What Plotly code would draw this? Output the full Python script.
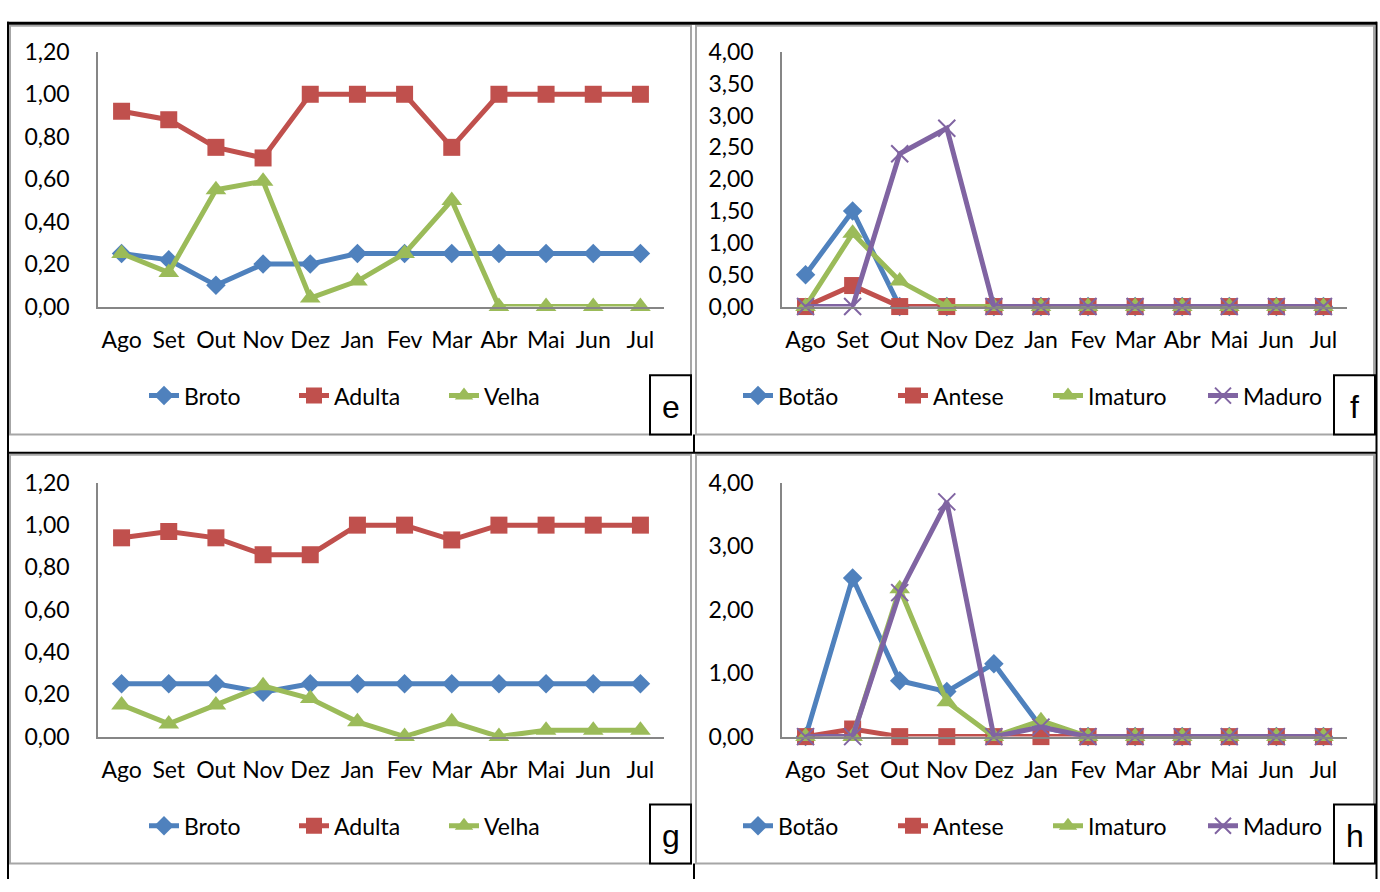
import plotly.graph_objects as go

meses = ["Ago", "Set", "Out", "Nov", "Dez", "Jan", "Fev", "Mar", "Abr", "Mai", "Jun", "Jul"]

# Panel e
e_broto = [0.25, 0.22, 0.10, 0.20, 0.20, 0.25, 0.25, 0.25, 0.25, 0.25, 0.25, 0.25]
e_adulta = [0.92, 0.88, 0.75, 0.70, 1.00, 1.00, 1.00, 0.75, 1.00, 1.00, 1.00, 1.00]
e_velha = [0.25, 0.16, 0.55, 0.59, 0.04, 0.12, 0.25, 0.50, 0.00, 0.00, 0.00, 0.00]

# Panel f
f_botao = [0.50, 1.50, 0.00, 0.00, 0.00, 0.00, 0.00, 0.00, 0.00, 0.00, 0.00, 0.00]
f_antese = [0.00, 0.33, 0.00, 0.00, 0.00, 0.00, 0.00, 0.00, 0.00, 0.00, 0.00, 0.00]
f_imaturo = [0.00, 1.15, 0.40, 0.00, 0.00, 0.00, 0.00, 0.00, 0.00, 0.00, 0.00, 0.00]
f_maduro = [0.00, 0.00, 2.40, 2.80, 0.00, 0.00, 0.00, 0.00, 0.00, 0.00, 0.00, 0.00]

# Panel g
g_broto = [0.25, 0.25, 0.25, 0.21, 0.25, 0.25, 0.25, 0.25, 0.25, 0.25, 0.25, 0.25]
g_adulta = [0.94, 0.97, 0.94, 0.86, 0.86, 1.00, 1.00, 0.93, 1.00, 1.00, 1.00, 1.00]
g_velha = [0.15, 0.06, 0.15, 0.24, 0.18, 0.07, 0.00, 0.07, 0.00, 0.03, 0.03, 0.03]

# Panel h
h_botao = [0.00, 2.50, 0.88, 0.71, 1.15, 0.15, 0.00, 0.00, 0.00, 0.00, 0.00, 0.00]
h_antese = [0.00, 0.12, 0.00, 0.00, 0.00, 0.00, 0.00, 0.00, 0.00, 0.00, 0.00, 0.00]
h_imaturo = [0.00, 0.00, 2.33, 0.55, 0.00, 0.25, 0.00, 0.00, 0.00, 0.00, 0.00, 0.00]
h_maduro = [0.00, 0.00, 2.27, 3.70, 0.00, 0.15, 0.00, 0.00, 0.00, 0.00, 0.00, 0.00]

W, H = 1380, 892
FONT = "Lato, 'Open Sans', sans-serif"
FS = 23
BLUE, RED, GREEN, PURPLE = "#4F81BD", "#C0504D", "#9BBB59", "#8064A2"
AXIS_GREY = "#868686"


def px(x):
    return x / W


def py(y):
    return 1 - y / H


STYLE = {
    "Broto": (BLUE, "diamond", 15, None),
    "Botão": (BLUE, "diamond", 15, None),
    "Adulta": (RED, "square", 17, None),
    "Antese": (RED, "square", 17, None),
    "Velha": (GREEN, "triangle-up", 18, None),
    "Imaturo": (GREEN, "triangle-up", 18, None),
    "Maduro": (PURPLE, "x-thin", 17, 2),
}

fig = go.Figure()

panels = [
    ("x", "y", "legend", [("Broto", e_broto), ("Adulta", e_adulta), ("Velha", e_velha)]),
    ("x2", "y2", "legend2", [("Botão", f_botao), ("Antese", f_antese), ("Imaturo", f_imaturo), ("Maduro", f_maduro)]),
    ("x3", "y3", "legend3", [("Broto", g_broto), ("Adulta", g_adulta), ("Velha", g_velha)]),
    ("x4", "y4", "legend4", [("Botão", h_botao), ("Antese", h_antese), ("Imaturo", h_imaturo), ("Maduro", h_maduro)]),
]

for xa, ya, lg, series in panels:
    for name, vals in series:
        color, sym, size, lw = STYLE[name]
        marker = dict(symbol=sym, size=size, color=color)
        if lw:
            marker["line"] = dict(color=color, width=lw)
        fig.add_trace(go.Scatter(
            x=meses, y=vals, name=name, mode="lines+markers",
            line=dict(color=color, width=5), marker=marker,
            xaxis=xa, yaxis=ya, legend=lg, cliponaxis=False,
        ))

xdom_left = [px(98), px(664)]
xdom_right = [px(782), px(1347)]
ydom_top = [py(301), py(38)]
ydom_bot = [py(745), py(483)]


def xaxis(dom, anchor):
    return dict(domain=dom, anchor=anchor, type="category", range=[-0.5, 11.5],
                showline=True, linecolor=AXIS_GREY, linewidth=1.5, ticks="",
                showgrid=False, zeroline=False, ticklabelstandoff=12,
                tickfont=dict(family=FONT, size=FS, color="black"), fixedrange=True)


def yaxis(dom, anchor, top, step):
    return dict(domain=dom, anchor=anchor, range=[0, top], dtick=step, tick0=0,
                tickformat=".2f", showline=True, linecolor=AXIS_GREY, linewidth=1.5,
                ticks="", showgrid=False, zeroline=False, ticklabelstandoff=22,
                tickfont=dict(family=FONT, size=FS, color="black"), fixedrange=True)


def legend(xc, yc, ew):
    return dict(orientation="h", x=px(xc), xanchor="center", y=py(yc), yanchor="middle",
                font=dict(family=FONT, size=FS, color="black"), bgcolor="rgba(0,0,0,0)",
                itemclick=False, itemdoubleclick=False, tracegroupgap=0,
                entrywidth=ew, entrywidthmode="pixels")


shapes = []
# grey chart frames
for x0, y0, x1, y1 in [(10, 11, 691, 433), (696, 11, 1374, 433), (10, 454, 691, 876), (696, 454, 1374, 876)]:
    shapes.append(dict(type="rect", xref="paper", yref="paper", x0=px(x0), x1=px(x1), y0=py(y1), y1=py(y0),
                       line=dict(color="#A6A6A6", width=2), layer="below"))
# black table lines
black_lines = [
    (7, 8.5, 1377, 8.5, 3),
    (8, 7, 8, 892, 2),
    (1376.5, 7, 1376.5, 892, 2),
    (694, 433, 694, 452, 2),
    (694, 876, 694, 892, 2),
    (8, 452, 1377, 452, 2),
]
for x0, y0, x1, y1, w in black_lines:
    shapes.append(dict(type="line", xref="paper", yref="paper", x0=px(x0), x1=px(x1), y0=py(y0), y1=py(y1),
                       line=dict(color="black", width=w), layer="below"))

letters = [("e", 650, 372, 691, 433), ("f", 1334, 372, 1375, 433),
           ("g", 650, 815, 691, 876), ("h", 1334, 815, 1375, 876)]
annotations = []
for txt, x0, y0, x1, y1 in letters:
    shapes.append(dict(type="rect", xref="paper", yref="paper", x0=px(x0), x1=px(x1), y0=py(y1), y1=py(y0),
                       line=dict(color="black", width=2), fillcolor="white", layer="above"))
    annotations.append(dict(text=txt, xref="paper", yref="paper", x=px((x0 + x1) / 2), y=py((y0 + y1) / 2 + 2),
                            xanchor="center", yanchor="middle", showarrow=False,
                            font=dict(family="Liberation Sans, Arial, sans-serif", size=32, color="black")))

fig.update_layout(
    width=W, height=H, margin=dict(l=0, r=0, t=0, b=0),
    paper_bgcolor="white", plot_bgcolor="white",
    separators=", ",
    font=dict(family=FONT, size=FS, color="black"),
    xaxis=xaxis(xdom_left, "y"), yaxis=yaxis(ydom_top, "x", 1.2, 0.2),
    xaxis2=xaxis(xdom_right, "y2"), yaxis2=yaxis(ydom_top, "x2", 4.0, 0.5),
    xaxis3=xaxis(xdom_left, "y3"), yaxis3=yaxis(ydom_bot, "x3", 1.2, 0.2),
    xaxis4=xaxis(xdom_right, "y4"), yaxis4=yaxis(ydom_bot, "x4", 4.0, 1.0),
    legend=legend(369, 393, 105), legend2=legend(1048, 393, 110),
    legend3=legend(369, 837, 105), legend4=legend(1048, 837, 110),
    shapes=shapes, annotations=annotations, showlegend=True,
)

fig.write_html(
    "out.html",
    config={"displayModeBar": False},
    post_script="document.body.style.margin='0';document.body.style.padding='0';"
                "document.documentElement.style.overflow='hidden';document.body.style.overflow='hidden';",
)
